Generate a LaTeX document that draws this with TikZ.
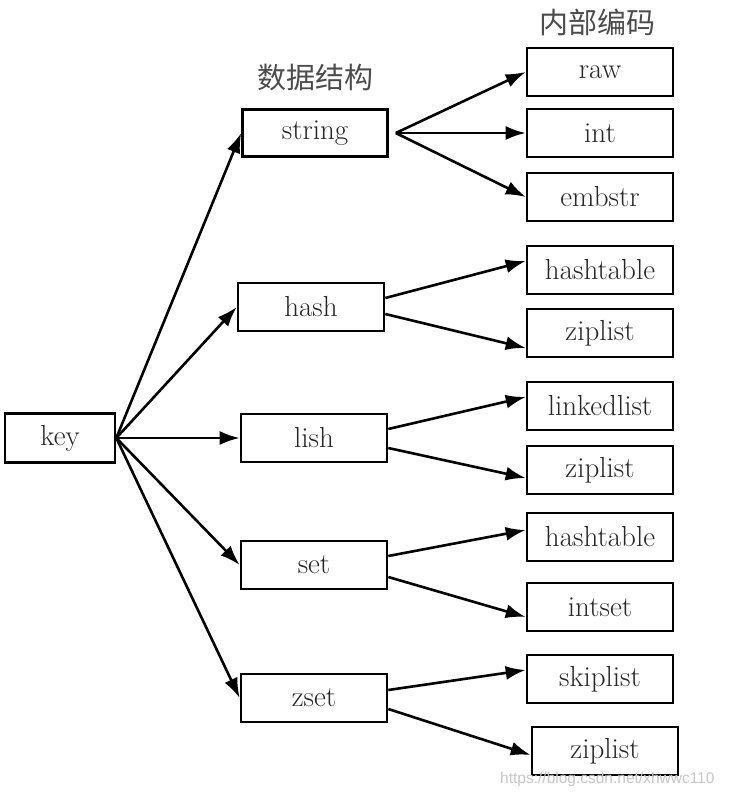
\documentclass[tikz,border=0pt]{standalone}
\usepackage{fontspec}
\newfontfamily\cjk{Noto Sans CJK SC}
\newfontfamily\wmfont{Liberation Sans}
\usetikzlibrary{arrows.meta}
\begin{document}
\begin{tikzpicture}[x=1pt,y=-1pt,
  box/.style={draw=black, line width=2.6pt, fill=white, minimum width=146pt, minimum height=48pt,
    inner sep=0pt, font=\fontsize{29}{32}\selectfont, text=black!85},
  arr/.style={line width=2.6pt, -{Latex[length=20pt,width=14pt]}},
  head/.style={font=\cjk\fontsize{29}{32}\selectfont, text=black!70}]
\useasboundingbox (0,0) rectangle (728,800);
\fill[white] (0,0) rectangle (728,800);
% headings
\node[head] (h1) at (315,78) {数据结构};
\node[head] (h2) at (597,22) {内部编码};
% key
\node[box, minimum width=110pt, minimum height=49pt] (key) at (60,438) {key};
% middle
\node[box, minimum width=145pt, minimum height=47pt] (string) at (315,133) {string};
\node[box] (hash) at (311,307) {hash};
\node[box] (lish) at (314,438) {lish};
\node[box] (set) at (314,565) {set};
\node[box] (zset) at (314,698) {zset};
% right
\node[box] (raw) at (600,72) {raw};
\node[box] (int) at (600,133) {int};
\node[box] (embstr) at (600,197) {embstr};
\node[box] (ht1) at (600,270) {hashtable};
\node[box] (zl1) at (600,333) {ziplist};
\node[box] (ll) at (600,406) {linkedlist};
\node[box] (zl2) at (600,470) {ziplist};
\node[box] (ht2) at (600,537) {hashtable};
\node[box] (is) at (600,607) {intset};
\node[box] (sl) at (600,679) {skiplist};
\node[box] (zl3) at (605,751) {ziplist};
% key arrows
\foreach \t in {string,hash,lish,set,zset}
  \draw[arr] (key.east) -- (\t.west);
% string arrows
\coordinate (s0) at ([xshift=7pt]string.east);
\foreach \t in {raw,int,embstr}
  \draw[arr] (s0) -- (\t.west);
% hash
\draw[arr] ([yshift=9pt]hash.east) -- ([yshift=9pt]ht1.west);
\draw[arr] ([yshift=-7pt]hash.east) -- ([yshift=-15pt]zl1.west);
% lish
\draw[arr] ([yshift=9pt]lish.east) -- ([yshift=9pt]ll.west);
\draw[arr] ([yshift=-10pt]lish.east) -- ([yshift=-8pt]zl2.west);
% set
\draw[arr] ([yshift=9pt]set.east) -- ([yshift=7pt]ht2.west);
\draw[arr] ([yshift=-12pt]set.east) -- ([yshift=-10pt]is.west);
% zset
\draw[arr] ([yshift=8pt]zset.east) -- ([yshift=9pt]sl.west);
\draw[arr] ([yshift=-11pt]zset.east) -- ([yshift=-4pt]zl3.west);
% watermark
\node[font=\wmfont\fontsize{15.5}{18}\selectfont, text=black!22, anchor=east] (wm) at (718,779) {https://blog.csdn.net/xhwwc110};
\end{tikzpicture}
\end{document}
